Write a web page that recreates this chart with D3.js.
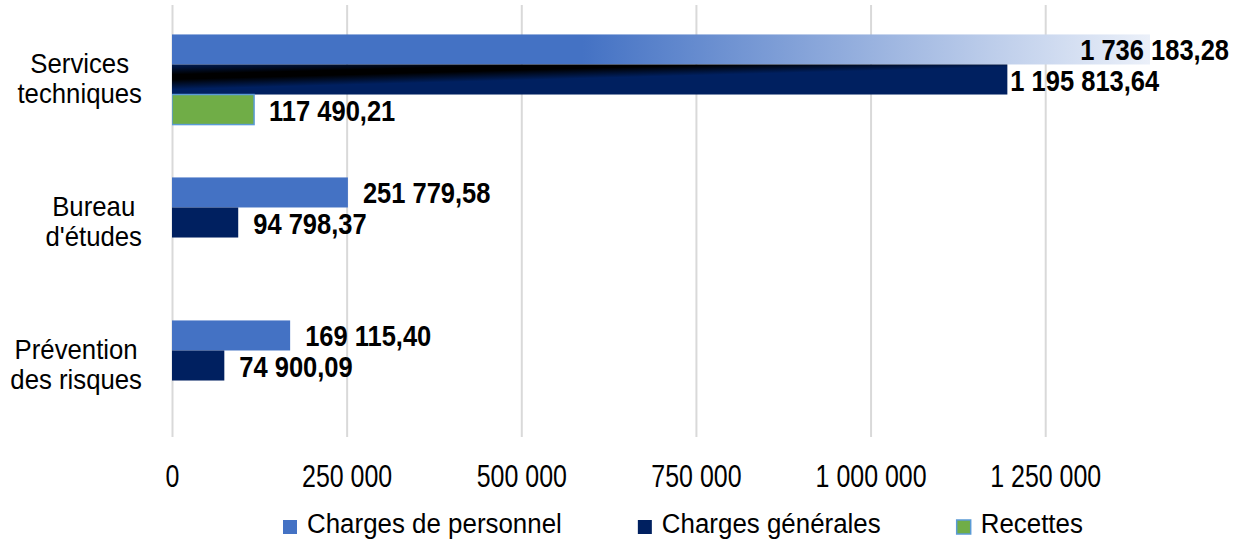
<!DOCTYPE html>
<html>
<head>
<meta charset="utf-8">
<script src="https://cdn.jsdelivr.net/npm/d3@7"></script>
<style>
  body { margin: 0; background: #fff; }
  svg { display: block; font-family: "Liberation Sans", Arial, sans-serif; }
</style>
</head>
<body>
<svg id="chart" width="1236" height="542"></svg>
<script>
// data
var categories = ["Services techniques", "Bureau d'études", "Prévention des risques"]
var catLines = [["Services", "techniques"], ["Bureau", "d'études"], ["Prévention", "des risques"]]
var seriesNames = ["Charges de personnel", "Charges générales", "Recettes"]
var personnel = [1736183.28, 251779.58, 169115.40]
var generales = [1195813.64, 94798.37, 74900.09]
var recettes = [117490.21, null, null]
var tickValues = [0, 250000, 500000, 750000, 1000000, 1250000]
var xMax = 1400000

var colors = ["#4472C4", "#002060", "#70AD47"]
var values = [personnel, generales, recettes]

var svg = d3.select("#chart")
var plotLeft = 172, plotRight = 1150, plotTop = 8, plotBottom = 437

var loc = d3.formatLocale({decimal: ",", thousands: "\u00a0", grouping: [3]})
var fmtTick = loc.format(",")
var fmtVal = loc.format(",.2f")

var x = d3.scaleLinear().domain([0, xMax]).range([plotLeft, plotRight])
var y0 = d3.scaleBand().domain(categories).range([plotTop, plotBottom])
var y1 = d3.scaleBand().domain(seriesNames).range([0, y0.bandwidth()]).paddingOuter(0.88)

var defs = svg.append("defs")
// fade of the first series
var gradA = defs.append("linearGradient").attr("id", "gradPers")
    .attr("gradientUnits", "userSpaceOnUse")
    .attr("x1", x(0)).attr("x2", x(xMax)).attr("y1", 0).attr("y2", 0)
gradA.append("stop").attr("offset", 0).attr("stop-color", "#4472C4")
gradA.append("stop").attr("offset", 0.42).attr("stop-color", "#4472C4")
gradA.append("stop").attr("offset", 1).attr("stop-color", "#ebf0f9")

// dark streak of the second series, first group only (local coords of the group)
var yb = y1(seriesNames[1])
var px = x(0), py = yb + 13, slope = -0.027
var nlen = Math.sqrt(1 + slope * slope), nx = -slope / nlen, ny = 1 / nlen, half = 12
var gradB = defs.append("linearGradient").attr("id", "gradGen")
    .attr("gradientUnits", "userSpaceOnUse")
    .attr("x1", px - nx * half).attr("y1", py - ny * half)
    .attr("x2", px + nx * half).attr("y2", py + ny * half)
gradB.append("stop").attr("offset", 0).attr("stop-color", "#001a4d")
gradB.append("stop").attr("offset", 0.38).attr("stop-color", "#000000")
gradB.append("stop").attr("offset", 0.58).attr("stop-color", "#000000")
gradB.append("stop").attr("offset", 1).attr("stop-color", "#002060")

defs.append("clipPath").attr("id", "plotClip").append("rect")
    .attr("x", plotLeft).attr("y", plotTop).attr("width", plotRight - plotLeft).attr("height", plotBottom - plotTop)

// axis + grid
var axis = svg.append("g").attr("transform", "translate(0," + plotBottom + ")")
    .call(d3.axisBottom(x).tickValues(tickValues).tickSize(-(plotBottom - plotTop + 3)).tickFormat(fmtTick))
axis.select(".domain").remove()
axis.selectAll("line").attr("stroke", "#d9d9d9").attr("stroke-width", 2)
axis.selectAll("text")
    .attr("y", 0).attr("dy", null)
    .attr("transform", "translate(0,50) scale(0.78,1)")
    .attr("fill", "#000").attr("font-size", 32).attr("font-family", "Liberation Sans, Arial, sans-serif")

// bars
var groups = svg.append("g").attr("clip-path", "url(#plotClip)")
    .selectAll("g").data(categories).join("g")
    .attr("transform", function(d){ return "translate(0," + y0(d) + ")" })

groups.each(function(cat, ci){
    var gr = d3.select(this)
    seriesNames.forEach(function(s, si){
        var v = values[si][ci]
        if(v == null) return
        var fill = colors[si]
        if(ci == 0 && si == 0) fill = "url(#gradPers)"
        if(ci == 0 && si == 1) fill = "url(#gradGen)"
        var r = gr.append("rect")
            .attr("x", x(0))
            .attr("y", y1(s))
            .attr("width", Math.min(x(v), x(xMax)) - x(0))
            .attr("height", y1.bandwidth())
            .attr("fill", fill)
        if(si == 2) r.attr("stroke", "#5B9BD5").attr("stroke-width", 1.5)
    })
})

// value labels
var labels = svg.append("g").attr("font-weight", "bold").attr("font-size", 30).attr("fill", "#000")
categories.forEach(function(cat, ci){
    seriesNames.forEach(function(s, si){
        var v = values[si][ci]
        if(v == null) return
        var cy = y0(cat) + y1(s) + y1.bandwidth() / 2 + 11
        var t = labels.append("text").text(fmtVal(v))
        if(v > xMax){
            t.attr("text-anchor", "end").attr("transform", "translate(" + (1229) + "," + cy + ") scale(0.85,1)")
        } else {
            var gap = (ci == 0 && si == 1) ? 3 : 15
            t.attr("transform", "translate(" + (x(v) + gap) + "," + cy + ") scale(0.85,1)")
        }
    })
})

// category labels
var catG = svg.append("g").attr("font-size", 28).attr("fill", "#000")
categories.forEach(function(cat, ci){
    var cy = y0(cat) + y0.bandwidth() / 2
    var k = 0.92
    var lines = catLines[ci]
    var ts = lines.map(function(l, li){
        return catG.append("text").text(l).attr("text-anchor", "middle").attr("font-size", 28)
    })
    var w = d3.max(ts, function(t){ return t.node().getComputedTextLength() }) * k
    var cx = 142 - w / 2
    ts.forEach(function(t, li){
        t.attr("transform", "translate(" + cx + "," + (cy - 7 + li * 30) + ") scale(" + k + ",1)")
    })
})

// legend
var leg = svg.append("g")
var lx = 283
seriesNames.forEach(function(s, si){
    var sw = leg.append("rect").attr("x", lx).attr("y", 520).attr("width", 14).attr("height", 14).attr("fill", colors[si])
    if(si == 2) sw.attr("stroke", "#5B9BD5").attr("stroke-width", 1.5)
    var t = leg.append("text").text(s).attr("font-size", 28).attr("fill", "#000")
        .attr("transform", "translate(" + (lx + 24) + ",533) scale(0.925,1)")
    lx = lx + 24 + t.node().getComputedTextLength() * 0.925 + 76
})
</script>
</body>
</html>
